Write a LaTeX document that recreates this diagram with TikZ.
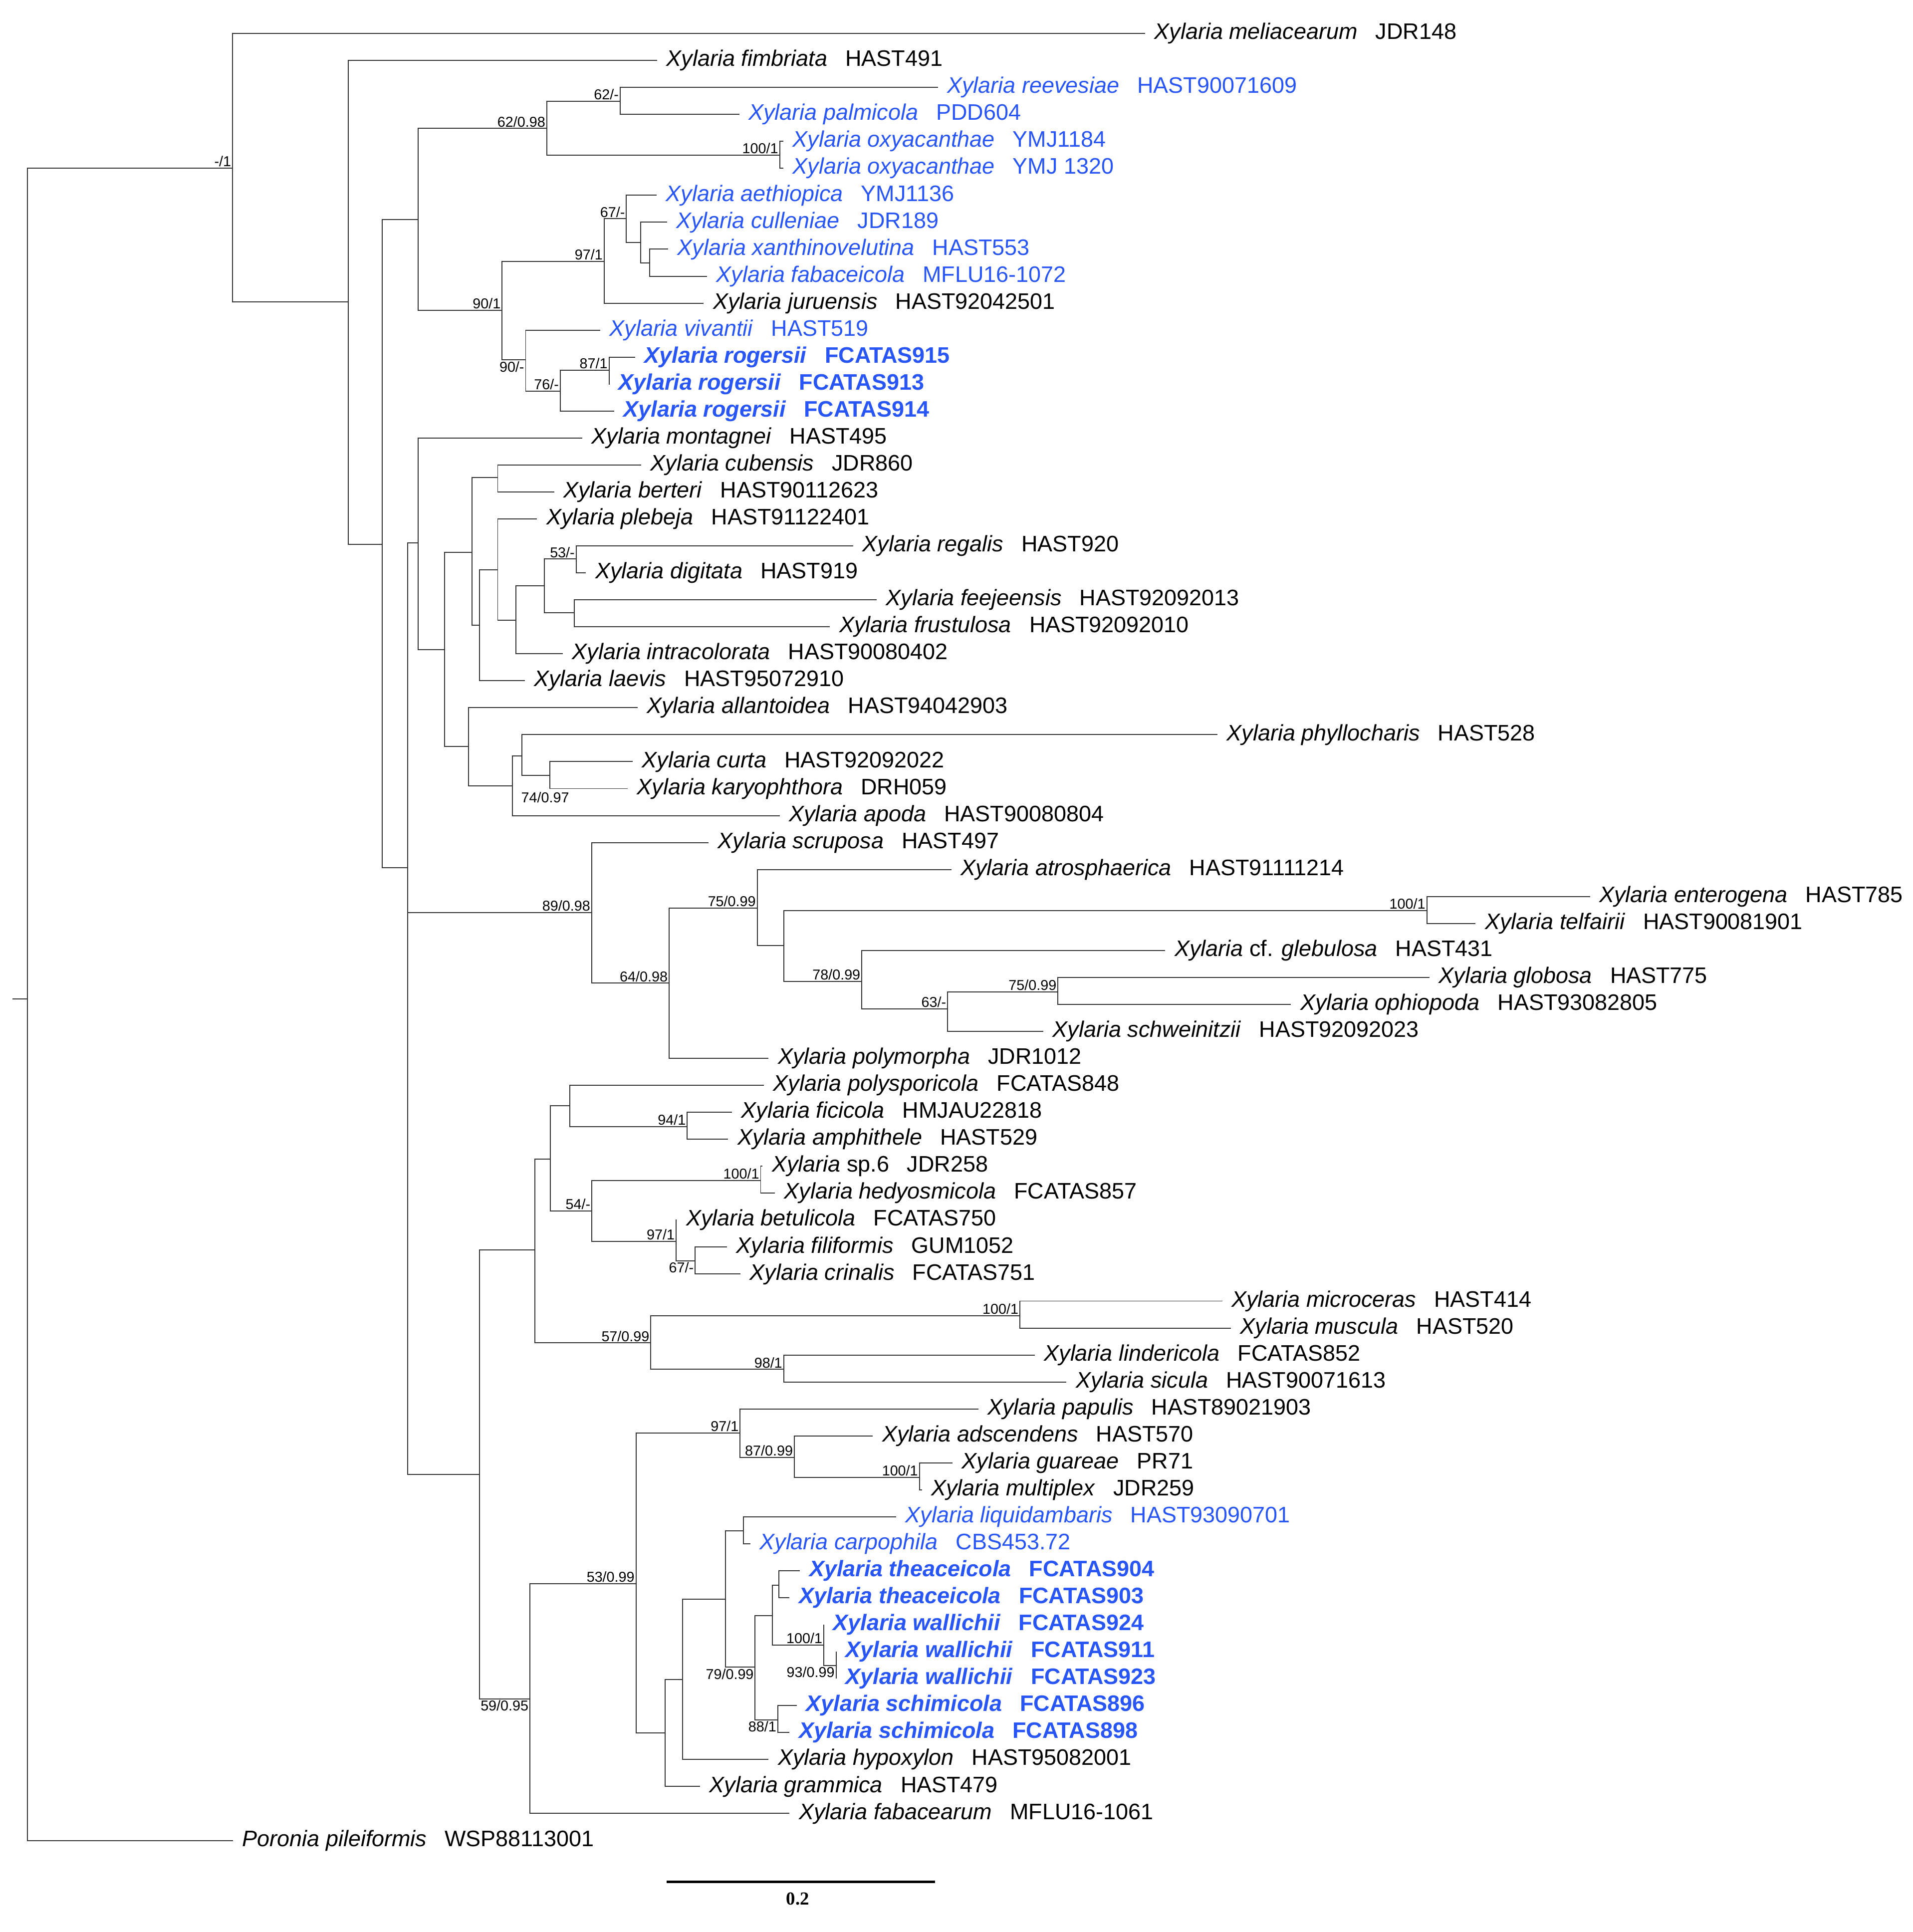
\documentclass[tikz,border=0pt]{standalone}
\usepackage{fontspec}
\setmainfont{Liberation Sans}
\newfontfamily\serifff{Liberation Serif}
\definecolor{xb}{RGB}{40,85,245}
\newcommand\lab{\fontsize{18.3}{20}\selectfont}
\newcommand\slab{\fontsize{11.7}{13}\selectfont}
\newcommand\X[1]{\textit{Xylaria #1}}
\tikzset{
  br/.style={draw=black!80, line width=0.8pt},
  tl/.style={anchor=west, inner sep=0pt, xshift=7.5pt, font=\lab},
  bl/.style={text=xb},
  nb/.style={text=xb, font=\lab\bfseries},
  sa/.style={anchor=south east, inner sep=1pt, font=\slab},
  sb/.style={anchor=north east, inner sep=1pt, font=\slab},
}
\newcommand\tp[5][]{\coordinate (t#2) at (#3,{27.3+22*#2}); \node[tl,#1] (l#2) at (t#2) {#4\hspace{0.8em}#5};}
\newcommand\ed[2]{\draw[br] (#1) |- (#2);}
\newcommand\sv[3][sa]{\node[#1] at (#2) {#3};}
\begin{document}
\begin{tikzpicture}[x=1pt,y=-1pt]
\useasboundingbox (0,0) rectangle (1560.5,1576);
% tips
\tp{0}{934}{\X{meliacearum}}{JDR148}
\tp{1}{536}{\X{fimbriata}}{HAST491}
\tp[bl]{2}{765}{\X{reevesiae}}{HAST90071609}
\tp[bl]{3}{603}{\X{palmicola}}{PDD604}
\tp[bl]{4}{639}{\X{oxyacanthae}}{YMJ1184}
\tp[bl]{5}{639}{\X{oxyacanthae}}{YMJ 1320}
\tp[bl]{6}{535.6}{\X{aethiopica}}{YMJ1136}
\tp[bl]{7}{544}{\X{culleniae}}{JDR189}
\tp[bl]{8}{545}{\X{xanthinovelutina}}{HAST553}
\tp[bl]{9}{576.7}{\X{fabaceicola}}{MFLU16-1072}
\tp{10}{574}{\X{juruensis}}{HAST92042501}
\tp[bl]{11}{489.5}{\X{vivantii}}{HAST519}
\tp[nb]{12}{518}{\X{rogersii}}{FCATAS915}
\tp[nb]{13}{497}{\X{rogersii}}{FCATAS913}
\tp[nb]{14}{501}{\X{rogersii}}{FCATAS914}
\tp{15}{475}{\X{montagnei}}{HAST495}
\tp{16}{523}{\X{cubensis}}{JDR860}
\tp{17}{452}{\X{berteri}}{HAST90112623}
\tp{18}{438}{\X{plebeja}}{HAST91122401}
\tp{19}{696}{\X{regalis}}{HAST920}
\tp{20}{478}{\X{digitata}}{HAST919}
\tp{21}{715}{\X{feejeensis}}{HAST92092013}
\tp{22}{677}{\X{frustulosa}}{HAST92092010}
\tp{23}{459}{\X{intracolorata}}{HAST90080402}
\tp{24}{428}{\X{laevis}}{HAST95072910}
\tp{25}{520}{\X{allantoidea}}{HAST94042903}
\tp{26}{993}{\X{phyllocharis}}{HAST528}
\tp{27}{516}{\X{curta}}{HAST92092022}
\tp{28}{512}{\X{karyophthora}}{DRH059}
\tp{29}{636}{\X{apoda}}{HAST90080804}
\tp{30}{578}{\X{scruposa}}{HAST497}
\tp{31}{776}{\X{atrosphaerica}}{HAST91111214}
\tp{32}{1297}{\X{enterogena}}{HAST785}
\tp{33}{1203.7}{\X{telfairii}}{HAST90081901}
\tp{34}{950.5}{\textit{Xylaria} cf. \textit{glebulosa}}{HAST431}
\tp{35}{1166}{\X{globosa}}{HAST775}
\tp{36}{1053}{\X{ophiopoda}}{HAST93082805}
\tp{37}{851}{\X{schweinitzii}}{HAST92092023}
\tp{38}{627}{\X{polymorpha}}{JDR1012}
\tp{39}{623}{\X{polysporicola}}{FCATAS848}
\tp{40}{597}{\X{ficicola}}{HMJAU22818}
\tp{41}{594}{\X{amphithele}}{HAST529}
\tp{42}{622}{\textit{Xylaria} sp.6}{JDR258}
\tp{43}{632}{\X{hedyosmicola}}{FCATAS857}
\tp{44}{552}{\X{betulicola}}{FCATAS750}
\tp{45}{593}{\X{filiformis}}{GUM1052}
\tp{46}{604}{\X{crinalis}}{FCATAS751}
\tp{47}{997}{\X{microceras}}{HAST414}
\tp{48}{1004}{\X{muscula}}{HAST520}
\tp{49}{844}{\X{lindericola}}{FCATAS852}
\tp{50}{870}{\X{sicula}}{HAST90071613}
\tp{51}{798}{\X{papulis}}{HAST89021903}
\tp{52}{712}{\X{adscendens}}{HAST570}
\tp{53}{777}{\X{guareae}}{PR71}
\tp{54}{752}{\X{multiplex}}{JDR259}
\tp[bl]{55}{731}{\X{liquidambaris}}{HAST93090701}
\tp[bl]{56}{612}{\X{carpophila}}{CBS453.72}
\tp[nb]{57}{652.5}{\X{theaceicola}}{FCATAS904}
\tp[nb]{58}{644}{\X{theaceicola}}{FCATAS903}
\tp[nb]{59}{672}{\X{wallichii}}{FCATAS924}
\tp[nb]{60}{682}{\X{wallichii}}{FCATAS911}
\tp[nb]{61}{682}{\X{wallichii}}{FCATAS923}
\tp[nb]{62}{650}{\X{schimicola}}{FCATAS896}
\tp[nb]{63}{644}{\X{schimicola}}{FCATAS898}
\tp{64}{627}{\X{hypoxylon}}{HAST95082001}
\tp{65}{571}{\X{grammica}}{HAST479}
\tp{66}{644}{\X{fabacearum}}{MFLU16-1061}
\tp{67}{190}{\textit{Poronia pileiformis}}{WSP88113001}
% internal nodes
\coordinate (stub) at (10,815);
\coordinate (root) at (22.5,815);
\coordinate (A) at (189.7,137);
\coordinate (B) at (284,246.4);
\coordinate (C) at (311.8,444);
\coordinate (D) at (340.9,179);
\coordinate (F) at (446,104.7);
\coordinate (N62) at (505.9,82.5);
\coordinate (Noxy) at (636,126.5);
\coordinate (G) at (409.6,253);
\coordinate (H) at (492.8,213.3);
\coordinate (J) at (511,178.4);
\coordinate (K) at (522.6,198);
\coordinate (L) at (529.8,214.5);
\coordinate (I) at (428.8,293.6);
\coordinate (M) at (457,319);
\coordinate (N) at (496.8,302);
\coordinate (E) at (332.5,708);
\coordinate (P) at (340.9,443);
\coordinate (S) at (362.7,530);
\coordinate (T) at (385,450.6);
\coordinate (V) at (406,389.5);
\coordinate (T2) at (391,510);
\coordinate (W) at (406,465);
\coordinate (Xn) at (421,506);
\coordinate (X2) at (444,478);
\coordinate (Nreg) at (470,456);
\coordinate (Nfee) at (468.5,500);
\coordinate (U) at (382,609);
\coordinate (Y) at (418,641);
\coordinate (Z) at (425.6,616.6);
\coordinate (Ncur) at (448.4,632.7);
\coordinate (Q) at (482.6,744.5);
\coordinate (Q2) at (545.8,802);
\coordinate (Q3) at (617.7,740.7);
\coordinate (Q4) at (639.3,771.4);
\coordinate (Nent) at (1163.9,742.8);
\coordinate (Q5) at (703,800.5);
\coordinate (Q6) at (773,823);
\coordinate (Nglob) at (863,809);
\coordinate (R) at (391.3,1202.6);
\coordinate (R1) at (436.2,1019.5);
\coordinate (R3) at (449,945.6);
\coordinate (R5) at (464.8,902);
\coordinate (Nfic) at (560.6,919);
\coordinate (R6) at (482.8,987.8);
\coordinate (Nsp) at (620.5,963);
\coordinate (R7) at (551.5,1012.5);
\coordinate (Nfil) at (567,1028.6);
\coordinate (R4) at (530.9,1095.4);
\coordinate (Nmic) at (832,1073.3);
\coordinate (Nlin) at (639.3,1117);
\coordinate (R2) at (432.3,1385.9);
\coordinate (R8) at (518.8,1291.8);
\coordinate (R9) at (603.7,1168.8);
\coordinate (N87) at (648,1188.8);
\coordinate (Ngua) at (750,1205);
\coordinate (R10) at (542.5,1413.7);
\coordinate (R11) at (556.9,1370);
\coordinate (R12) at (591.9,1304.5);
\coordinate (Nliq) at (606.5,1248.8);
\coordinate (R13) at (616,1360);
\coordinate (R14) at (630,1318);
\coordinate (Nthe) at (635.3,1293);
\coordinate (Nwal) at (672,1342);
\coordinate (N93) at (682,1358.6);
\coordinate (Nsch) at (634.5,1403);
% edges
\draw[br] (stub) -- (root);
\ed{root}{A}\ed{root}{t67}
\ed{A}{t0}\ed{A}{B}
\ed{B}{t1}\ed{B}{C}
\ed{C}{D}\ed{C}{E}
\ed{D}{F}\ed{D}{G}
\ed{F}{N62}\ed{F}{Noxy}
\ed{N62}{t2}\ed{N62}{t3}
\ed{Noxy}{t4}\ed{Noxy}{t5}
\ed{G}{H}\ed{G}{I}
\ed{H}{J}\ed{H}{t10}
\ed{J}{t6}\ed{J}{K}
\ed{K}{t7}\ed{K}{L}
\ed{L}{t8}\ed{L}{t9}
\ed{I}{t11}\ed{I}{M}
\ed{M}{N}\ed{M}{t14}
\ed{N}{t12}\ed{N}{t13}
\ed{E}{P}\ed{E}{Q}\ed{E}{R}
\ed{P}{t15}\ed{P}{S}
\ed{S}{T}\ed{S}{U}
\ed{T}{V}\ed{T}{T2}
\ed{V}{t16}\ed{V}{t17}
\ed{T2}{W}\ed{T2}{t24}
\ed{W}{t18}\ed{W}{Xn}
\ed{Xn}{X2}\ed{Xn}{t23}
\ed{X2}{Nreg}\ed{X2}{Nfee}
\ed{Nreg}{t19}\ed{Nreg}{t20}
\ed{Nfee}{t21}\ed{Nfee}{t22}
\ed{U}{t25}\ed{U}{Y}
\ed{Y}{Z}\ed{Y}{t29}
\ed{Z}{t26}\ed{Z}{Ncur}
\ed{Ncur}{t27}\ed{Ncur}{t28}
\ed{Q}{t30}\ed{Q}{Q2}
\ed{Q2}{Q3}\ed{Q2}{t38}
\ed{Q3}{t31}\ed{Q3}{Q4}
\ed{Q4}{Nent}\ed{Q4}{Q5}
\ed{Nent}{t32}\ed{Nent}{t33}
\ed{Q5}{t34}\ed{Q5}{Q6}
\ed{Q6}{Nglob}\ed{Q6}{t37}
\ed{Nglob}{t35}\ed{Nglob}{t36}
\ed{R}{R1}\ed{R}{R2}
\ed{R1}{R3}\ed{R1}{R4}
\ed{R3}{R5}\ed{R3}{R6}
\ed{R5}{t39}\ed{R5}{Nfic}
\ed{Nfic}{t40}\ed{Nfic}{t41}
\ed{R6}{Nsp}\ed{R6}{R7}
\ed{Nsp}{t42}\ed{Nsp}{t43}
\ed{R7}{t44}\ed{R7}{Nfil}
\ed{Nfil}{t45}\ed{Nfil}{t46}
\ed{R4}{Nmic}\ed{R4}{Nlin}
\ed{Nmic}{t47}\ed{Nmic}{t48}
\ed{Nlin}{t49}\ed{Nlin}{t50}
\ed{R2}{R8}\ed{R2}{t66}
\ed{R8}{R9}\ed{R8}{R10}
\ed{R9}{t51}\ed{R9}{N87}
\ed{N87}{t52}\ed{N87}{Ngua}
\ed{Ngua}{t53}\ed{Ngua}{t54}
\ed{R10}{R11}\ed{R10}{t65}
\ed{R11}{R12}\ed{R11}{t64}
\ed{R12}{Nliq}\ed{R12}{R13}
\ed{Nliq}{t55}\ed{Nliq}{t56}
\ed{R13}{R14}\ed{R13}{Nsch}
\ed{R14}{Nthe}\ed{R14}{Nwal}
\ed{Nthe}{t57}\ed{Nthe}{t58}
\ed{Nwal}{t59}\ed{Nwal}{N93}
\ed{N93}{t60}\ed{N93}{t61}
\ed{Nsch}{t62}\ed{Nsch}{t63}
% support values
\sv{A}{-/1}
\sv{F}{62/0.98}
\sv{N62}{62/-}
\sv{Noxy}{100/1}
\sv{J}{67/-}
\sv{H}{97/1}
\sv{G}{90/1}
\sv[sb]{I}{90/-}
\sv{M}{76/-}
\sv{N}{87/1}
\sv{Nreg}{53/-}
\node[anchor=north west, inner sep=1pt, font=\slab] at (424,645) {74/0.97};
\sv{Q}{89/0.98}
\sv{Q2}{64/0.98}
\sv{Q3}{75/0.99}
\sv{Nent}{100/1}
\sv{Q5}{78/0.99}
\sv{Q6}{63/-}
\sv{Nglob}{75/0.99}
\sv{Nfic}{94/1}
\sv{Nsp}{100/1}
\sv{R6}{54/-}
\sv{R7}{97/1}
\sv[sb]{Nfil}{67/-}
\sv{R4}{57/0.99}
\sv{Nmic}{100/1}
\sv{Nlin}{98/1}
\sv{R9}{97/1}
\sv{N87}{87/0.99}
\sv{Ngua}{100/1}
\sv{R8}{53/0.99}
\sv[sb]{R2}{59/0.95}
\sv[sb]{R13}{79/0.99}
\sv{Nwal}{100/1}
\sv[sb]{N93}{93/0.99}
\sv[sb]{Nsch}{88/1}
% scale bar
\coordinate (sb1) at (543.9,1535);
\coordinate (sb2) at (762.9,1535);
\draw[line width=2.2pt] (sb1) -- (sb2);
\node[font=\serifff\bfseries\fontsize{15}{17}\selectfont] (sbl) at (650.7,1549) {0.2};
\end{tikzpicture}
\end{document}
